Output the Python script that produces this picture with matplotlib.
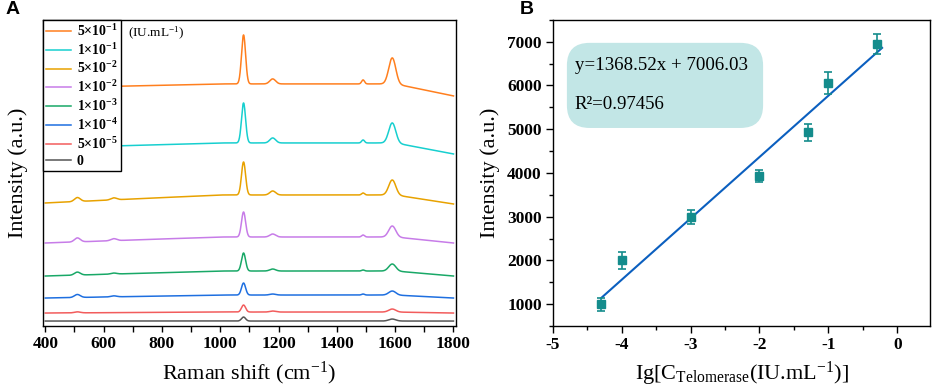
#!/usr/bin/env python

'''
SERS spectra for a series of telomerase concentrations (A) and the
calibration curve of peak intensity against lg concentration (B).
'''

import numpy as np
import matplotlib
matplotlib.use('Agg')
from matplotlib.pyplot import figure
from matplotlib.patches import FancyBboxPatch
from matplotlib.ticker import MultipleLocator

# ---- panel A: spectra, top to bottom --------------------------------------
labels = ['5×10$^{\\mathbf{-1}}$', '1×10$^{\\mathbf{-1}}$', '5×10$^{\\mathbf{-2}}$',
          '1×10$^{\\mathbf{-2}}$', '1×10$^{\\mathbf{-3}}$', '1×10$^{\\mathbf{-4}}$',
          '5×10$^{\\mathbf{-5}}$', '0']
colours = ['#FF7F1E', '#17CFCF', '#E8A200', '#C77CE8',
           '#19A867', '#1E6FE0', '#F25C5C', '#555555']

# band positions (cm-1) and band heights per spectrum (a.u.)
bands = [510, 635, 1080, 1180, 1490, 1590]
widths = [10, 10, 7, 10, 5, 12]
heights = [
    [2, 1, 49, 5, 4, 26],
    [2, 1, 40, 5, 3, 20],
    [4, 2, 33, 4, 2, 15],
    [4, 2, 25, 3, 2, 11],
    [3, 1, 18, 2, 1, 7],
    [3, 1, 12, 1, 1, 4],
    [1, 0, 7, 1, 0, 3],
    [0, 0, 4, 0, 0, 2],
]
offsets = [238, 178, 123, 83, 50, 28, 13, 5]
rises = [4, 5, 8, 6, 5, 3, 1, 0]
drops = [12, 11, 9, 6, 5, 3, 1, 0]

# ---- panel B: calibration --------------------------------------------------
lgC = [-4.3, -4.0, -3.0, -2.0, -1.3, -1.0, -0.3]
intensity = [1000, 2000, 3000, 3930, 4930, 6060, 6950]
errors = [150, 200, 160, 140, 190, 250, 220]
slope = 1368.52
intercept = 7006.03
r2 = 0.97456
# ends of the drawn fit line
fit_x = [-4.3, -0.22]
fit_y = [1140, 6860]

matplotlib.rcParams['font.family'] = 'Liberation Serif'
matplotlib.rcParams['mathtext.fontset'] = 'custom'
matplotlib.rcParams['mathtext.rm'] = 'Liberation Serif'
matplotlib.rcParams['mathtext.it'] = 'Liberation Serif:italic'
matplotlib.rcParams['mathtext.bf'] = 'Liberation Serif:bold'
matplotlib.rcParams['axes.unicode_minus'] = False


def get_spectrum(x, k):
    y = offsets[k] + rises[k] * np.clip((x - 400) / 600, 0, 1) \
        - drops[k] * np.clip((x - 1600) / 200, 0, 1)
    for b, w, h in zip(bands, widths, heights[k]):
        y = y + h * np.exp(-0.5 * ((x - b) / w) ** 2)
    return y


def style_ticks(ax):
    for lab in ax.get_xticklabels() + ax.get_yticklabels():
        lab.set_fontweight('bold')
        lab.set_fontsize(12.5)
    for s in ax.spines.values():
        s.set_linewidth(1.0)


fig = figure(figsize=(9.34, 3.90), dpi=100)

# panel A
ax1 = fig.add_axes([0.046, 0.164, 0.442, 0.785])
x = np.arange(400, 1801, 1.0)
for k in range(len(labels)):
    ax1.plot(x, get_spectrum(x, k), color=colours[k], lw=1.1, label=labels[k])
ax1.set_xlim(392, 1808)
ax1.set_ylim(0, 306)
ax1.set_yticks([])
ax1.xaxis.set_major_locator(MultipleLocator(200))
ax1.xaxis.set_minor_locator(MultipleLocator(100))
ax1.tick_params(axis='x', which='both', direction='out', length=4, width=1, pad=3)
ax1.set_xlabel('Raman shift (cm$^{-1}$)', fontsize=16)
ax1.xaxis.set_label_coords(0.5, -0.11)
ax1.set_ylabel('Intensity (a.u.)', fontsize=16)
ax1.yaxis.set_label_coords(-0.036, 0.5)
leg = ax1.legend(loc='upper left', bbox_to_anchor=(0, 1), borderaxespad=0,
                 fancybox=False, edgecolor='black', framealpha=1,
                 prop={'weight': 'bold', 'size': 10}, handlelength=1.8,
                 labelspacing=0.21, handletextpad=0.4, borderpad=0.22)
leg.get_frame().set_linewidth(1.0)
ax1.text(0.206, 0.957, '(IU.mL$^{-1}$)', transform=ax1.transAxes,
         fontsize=9.5, ha='left', va='center')
fig.text(0.013, 0.975, 'A', fontsize=14, fontweight='bold',
         family='Liberation Sans', ha='center', va='center')

# panel B
ax2 = fig.add_axes([0.592, 0.164, 0.404, 0.785])
box = FancyBboxPatch((0.037, 0.647), 0.52, 0.278, transform=ax2.transAxes,
                     boxstyle='round,pad=0,rounding_size=0.06',
                     mutation_aspect=377 / 306, facecolor='#C2E6E6',
                     edgecolor='none', zorder=1)
ax2.add_patch(box)
ax2.plot(fit_x, fit_y, color='#0B5FBF', lw=1.5, zorder=2)
ax2.errorbar(lgC, intensity, yerr=errors, fmt='s', color='#148C8C',
             ms=6, capsize=3, elinewidth=1.2, capthick=1.2, zorder=3)
ax2.text(0.058, 0.85, f'y={slope:.2f}x + {intercept:.2f}', transform=ax2.transAxes,
         fontsize=13.6, ha='left', va='center', zorder=4)
ax2.text(0.058, 0.722, f'R²={r2}', transform=ax2.transAxes,
         fontsize=13.6, ha='left', va='center', zorder=4)
ax2.set_xlim(-5, 0.48)
ax2.set_ylim(500, 7500)
ax2.xaxis.set_major_locator(MultipleLocator(1))
ax2.xaxis.set_minor_locator(MultipleLocator(0.5))
ax2.yaxis.set_major_locator(MultipleLocator(1000))
ax2.yaxis.set_minor_locator(MultipleLocator(500))
ax2.tick_params(which='major', direction='out', length=5, width=1, pad=3)
ax2.tick_params(which='minor', direction='out', length=3, width=1)
ax2.set_xlabel('Ig[C$_{\\mathrm{Telomerase}}$(IU.mL$^{-1}$)]', fontsize=16)
ax2.xaxis.set_label_coords(0.5, -0.11)
ax2.set_ylabel('Intensity (a.u.)', fontsize=16)
ax2.yaxis.set_label_coords(-0.14, 0.5)
fig.text(0.564, 0.975, 'B', fontsize=14, fontweight='bold',
         family='Liberation Sans', ha='center', va='center')

# tick labels only exist once the figure is drawn
fig.canvas.draw()
style_ticks(ax1)
style_ticks(ax2)

fig.savefig('out.png', dpi=100)
